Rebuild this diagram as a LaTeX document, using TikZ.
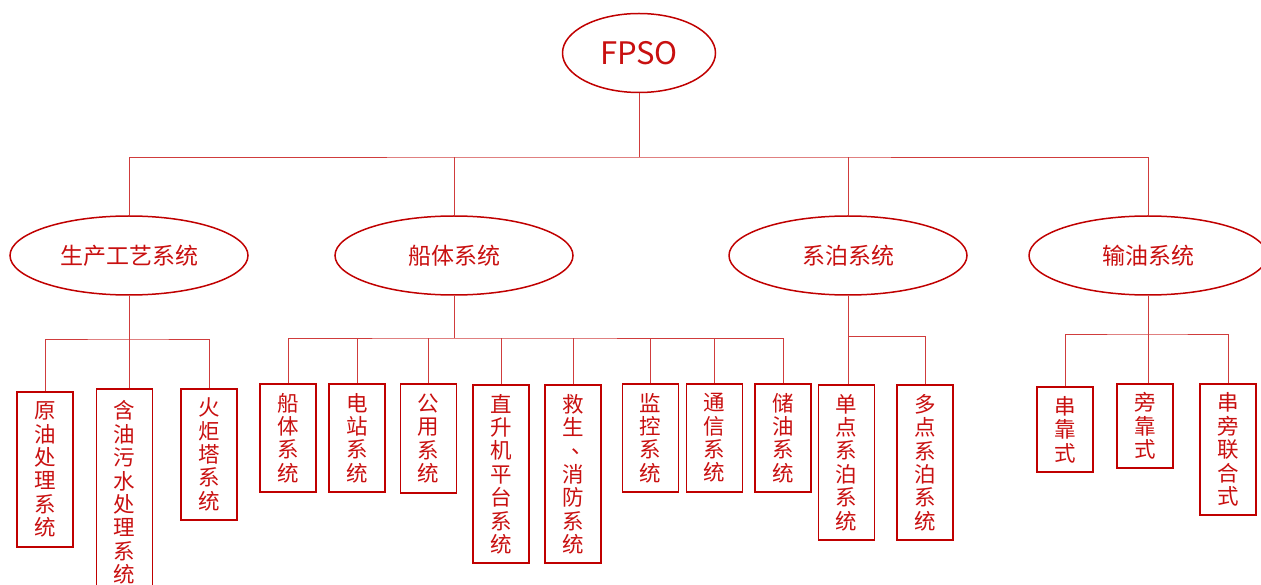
\documentclass[tikz,border=0pt]{standalone}
\usepackage{fontspec}
\setmainfont{Noto Sans CJK SC}
\usetikzlibrary{shapes.geometric}
\definecolor{dred}{RGB}{192,0,0}
\definecolor{lred}{RGB}{208,60,60}
\definecolor{tred}{RGB}{200,16,16}
\begin{document}
\begin{tikzpicture}[x=1pt,y=-1pt,
  oval/.style={ellipse,draw=dred,line width=1.5pt,text=tred,inner sep=0pt,font=\fontsize{23}{27}\selectfont},
  vbox/.style={rectangle,draw=dred,line width=1.8pt,text=tred,minimum width=56pt,inner sep=0pt,align=center,font=\fontsize{21.5}{23.4}\selectfont},
  link/.style={draw=lred,line width=0.9pt}]
\useasboundingbox (0,0) rectangle (1261,585);
\clip (0,0) rectangle (1261,585);
% root
\node[oval,minimum width=153pt,minimum height=79pt,font=\fontsize{31}{36}\selectfont] (root) at (639,53) {FPSO};
% level 2
\node[oval,minimum width=238pt,minimum height=79pt] (g1) at (129,255.5) {生产工艺系统};
\node[oval,minimum width=238pt,minimum height=79pt] (g2) at (454,255.5) {船体系统};
\node[oval,minimum width=238pt,minimum height=79pt] (g3) at (848,255.5) {系泊系统};
\node[oval,minimum width=238pt,minimum height=79pt] (g4) at (1148,255.5) {输油系统};
% level 3
\node[vbox,minimum height=155pt] (c1) at (45,469.5) {原\\油\\处\\理\\系\\统};
\node[vbox,minimum height=207pt] (c2) at (124.5,492.5) {含\\油\\污\\水\\处\\理\\系\\统};
\node[vbox,minimum height=131pt] (c3) at (209,454.5) {火\\炬\\塔\\系\\统};
\node[vbox,minimum height=108pt] (c4) at (288,438) {船\\体\\系\\统};
\node[vbox,minimum height=108pt] (c5) at (357,438) {电\\站\\系\\统};
\node[vbox,minimum height=109pt] (c6) at (428.5,438.5) {公\\用\\系\\统};
\node[vbox,minimum height=178pt] (c7) at (501,474) {直\\升\\机\\平\\台\\系\\统};
\node[vbox,minimum height=178pt] (c8) at (573,474) {救\\生\\\makebox[1em][l]{\hspace{0.45em}\raisebox{0.25em}{、}}\\消\\防\\系\\统};
\node[vbox,minimum height=108pt] (c9) at (650.5,438) {监\\控\\系\\统};
\node[vbox,minimum height=108pt] (c10) at (714.5,438) {通\\信\\系\\统};
\node[vbox,minimum height=108pt] (c11) at (783,438) {储\\油\\系\\统};
\node[vbox,minimum height=155pt] (c12) at (846.5,462.5) {单\\点\\系\\泊\\系\\统};
\node[vbox,minimum height=155pt] (c13) at (925,462.5) {多\\点\\系\\泊\\系\\统};
\node[vbox,minimum height=85pt] (c14) at (1065,429.5) {串\\靠\\式};
\node[vbox,minimum height=84pt] (c15) at (1145,426) {旁\\靠\\式};
\node[vbox,minimum height=131pt] (c16) at (1228,449.5) {串\\旁\\联\\合\\式};
% bus levels
\coordinate (y0) at (0,157);
\coordinate (y1) at (0,339);
\coordinate (y2) at (0,338);
\coordinate (y3) at (0,336);
\coordinate (y4) at (0,334);
% connectors level 1
\draw[link] (root.south) -- (root.south |- y0);
\draw[link] (g1.north) |- (root.south |- y0) -| (g4.north);
\draw[link] (g2.north) -- (g2.north |- y0);
\draw[link] (g3.north) -- (g3.north |- y0);
% group 1
\draw[link] (g1.south) -- (g1.south |- c2.north);
\draw[link] (c1.north) |- (g1.south |- y1) -| (c3.north);
% group 2
\draw[link] (g2.south) -- (g2.south |- y2);
\draw[link] (c4.north) |- (g2.south |- y2) -| (c11.north);
\foreach \n in {c5,c6,c7,c8,c9,c10}{\draw[link] (\n.north) -- (\n.north |- y2);}
% group 3
\draw[link] (g3.south) -- (g3.south |- c12.north);
\draw[link] (g3.south |- y3) -| (c13.north);
% group 4
\draw[link] (g4.south) -- (g4.south |- c15.north);
\draw[link] (c14.north) |- (g4.south |- y4) -| (c16.north);
\end{tikzpicture}
\end{document}
